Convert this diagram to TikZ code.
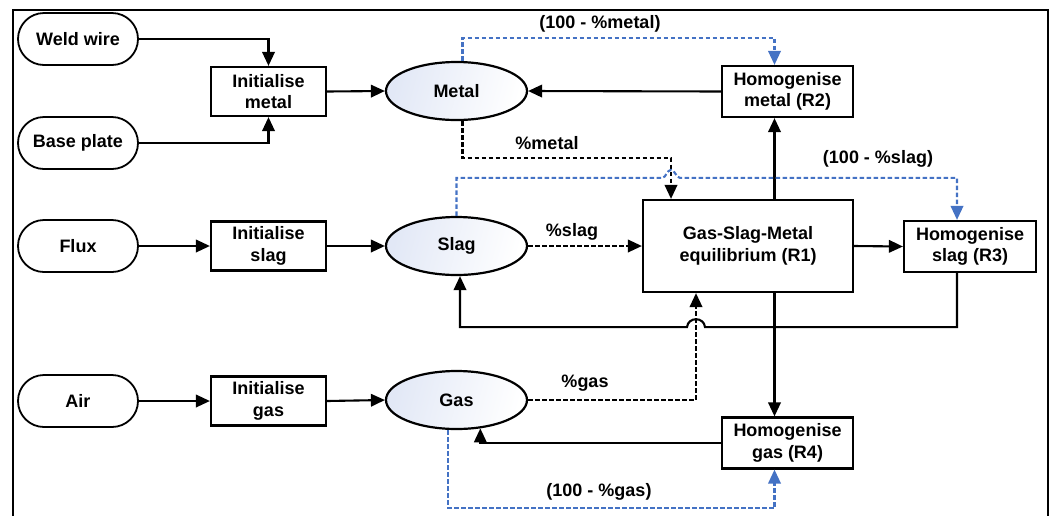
\documentclass[tikz,border=0pt]{standalone}
\usepackage{fontspec}
\setmainfont{Liberation Sans}
\usetikzlibrary{arrows.meta,shapes.geometric,shapes.misc,calc}
\definecolor{myblue}{RGB}{68,114,196}
\definecolor{ovalfill}{RGB}{226,232,246}
\begin{document}
\begin{tikzpicture}[x=1pt,y=-1pt,
  every node/.style={font=\fontsize{18}{21.5}\selectfont\bfseries, align=center},
  pill/.style={draw, rounded rectangle, minimum width=120pt, minimum height=52pt, inner sep=0pt, line width=1.8pt},
  box/.style={draw, rectangle, minimum width=115pt, minimum height=49pt, inner sep=0pt, line width=2.2pt},
  bigbox/.style={box, minimum width=131pt, minimum height=51pt},
  oval/.style={draw, ellipse, minimum width=141pt, minimum height=58pt, inner sep=0pt, line width=2.2pt,
     left color=ovalfill, right color=white, shading angle=75},
  tip/.style={-{Triangle[length=14pt,width=12.5pt]}},
  conn/.style={line width=2.1pt, tip},
  dconn/.style={conn, dash pattern=on 4.5pt off 2.5pt},
  bconn/.style={dconn, draw=myblue, -{Triangle[length=14pt,width=12.5pt,fill=myblue]}},
  lbl/.style={inner sep=0pt}
]
\path[use as bounding box] (0,0) rectangle (1054,515);
\begin{scope}
\clip (0,0) rectangle (1054,515);
\draw[line width=2.2pt] (13,530) -- (13,10) -- (1048,10) -- (1048,530);
\end{scope}

% nodes
\node[pill] (weld) at (78,39) {Weld wire};
\node[pill] (base) at (78,143) {Base plate};
\node[pill] (flux) at (78,246) {Flux};
\node[pill] (air) at (78,401) {Air};

\node[box] (initm) at (268.5,91.5) {Initialise\\metal};
\node[box] (inits) at (268.5,246) {Initialise\\slag};
\node[box] (initg) at (268.5,401) {Initialise\\gas};

\node[oval] (metal) at (456.5,91) {Metal};
\node[oval] (slag) at (456.5,246) {Slag};
\node[oval] (gas) at (456.5,400) {Gas};

\node[bigbox] (homm) at (787.5,91.5) {Homogenise\\metal (R2)};
\node[draw, rectangle, minimum width=210pt, minimum height=92pt, inner sep=0pt, line width=2.2pt] (gsm) at (748,246) {Gas-Slag-Metal\\equilibrium (R1)};
\node[draw, rectangle, minimum width=132pt, minimum height=51pt, inner sep=0pt, line width=2.2pt] (homs) at (970,246.5) {Homogenise\\slag (R3)};
\node[bigbox] (homg) at (787.5,443) {Homogenise\\gas (R4)};

% helper coordinates
\coordinate (vx) at (774.5,0);
\coordinate (mx) at (671,0);
\coordinate (hx) at (696,0);
\coordinate (sx) at (957,0);

% labels
\node[lbl] (l1) at (600,24) {(100 - \%metal)};
\node[lbl] (l2) at (547,143) {\%metal};
\node[lbl] (l3) at (878,159) {(100 - \%slag)};
\node[lbl] (l4) at (572,232) {\%slag};
\node[lbl] (l5) at (585,383) {\%gas};
\node[lbl] (l6) at (599,492) {(100 - \%gas)};

% left inputs
\draw[conn] (weld.east) -| (initm.north);
\draw[conn] (base.east) -| (initm.south);
\draw[conn] (flux.east) -- (inits.west);
\draw[conn] (air.east) -- (initg.west);
\draw[conn] (initm.east) -- (metal.west);
\draw[conn] (inits.east) -- (slag.west);
\draw[conn] (initg.east) -- (gas.west);

% metal loop
\draw[conn] (homm.west) -- (metal.east);
\draw[bconn] ([xshift=6pt]metal.north) -- ++(0,-23) -| (homm.north -| vx);
\draw[dconn] ([xshift=6pt]metal.south) -- ++(0,37) -| (gsm.north -| mx);
\draw[conn] (gsm.north -| vx) -- (homm.south -| vx);

% slag loop
\draw[bconn] (slag.north) -- ++(0,-38) coordinate (b1)
   -- ($(b1 -| mx)+(-9,0)$) .. controls +(4,0) and +(-4,0) .. ($(b1 -| mx)+(0,-8)$)
   .. controls +(4,0) and +(-4,0) .. ($(b1 -| mx)+(9,0)$)
   -| (homs.north -| sx);
\draw[dconn] (slag.east) -- (gsm.west);
\draw[conn] (gsm.east) -- (homs.west);
\draw[conn] (homs.south -| sx) -- ++(0,54) coordinate (b2)
   -- ($(b2 -| hx)+(9,0)$) .. controls +(-1,-10.5) and +(1,-10.5) .. ($(b2 -| hx)+(-9,0)$)
   -| ([xshift=3.5pt]slag.south);

% gas loop
\draw[dconn] (gas.east) -| (gsm.south -| hx);
\draw[conn] (gsm.south -| vx) -- (homg.north -| vx);
\draw[conn] (homg.west) -| (gas.-50);
\draw[bconn] ([xshift=-8.5pt]gas.south) -- ++(0,78) -| (homg.south -| vx);
\end{tikzpicture}
\end{document}
